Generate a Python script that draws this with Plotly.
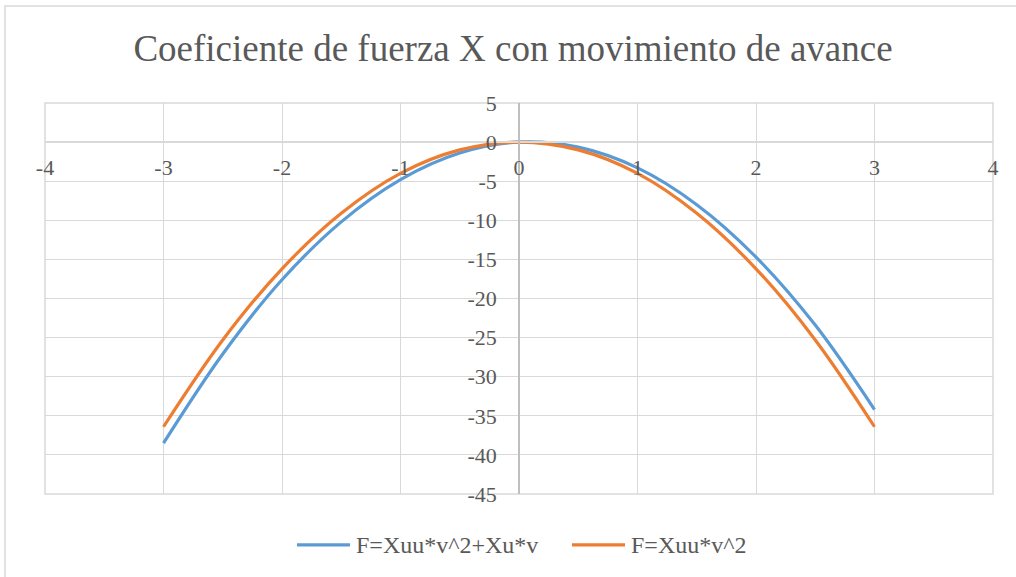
import plotly.graph_objects as go

# Velocity samples and the two force-coefficient curves
v = [-3.0, -2.5, -2.0, -1.5, -1.0, -0.5, 0.0, 0.5, 1.0, 1.5, 2.0, 2.5, 3.0]
f_full = [-38.5, -27.1, -17.6, -10.2, -4.8, -1.4, 0.0, -0.65, -3.3, -8.0, -14.7, -23.4, -34.2]
f_quad = [-36.4, -25.3, -16.2, -9.1, -4.0, -1.0, 0.0, -1.0, -4.0, -9.1, -16.2, -25.3, -36.4]

series_names = ["F=Xuu*v^2+Xu*v", "F=Xuu*v^2"]
series_colors = ["#5B9BD5", "#ED7D31"]

x_ticks = [-4, -3, -2, -1, 0, 1, 2, 3, 4]
x_labels = ["-4", "-3", "-2", "-1", "0", "1", "2", "3", "4"]
y_ticks = [5, 0, -5, -10, -15, -20, -25, -30, -35, -40, -45]
y_labels = ["5", "0", "-5", "-10", "-15", "-20", "-25", "-30", "-35", "-40", "-45"]

FONT = "Liberation Serif"
TEXT = "#595959"
GRID = "#d9d9d9"
LBL = 22

fig = go.Figure()
for ys, name, color in zip([f_full, f_quad], series_names, series_colors):
    fig.add_trace(go.Scatter(x=v, y=ys, mode="lines", name=name, showlegend=False,
                             line=dict(color=color, width=3.2, shape="spline")))

y_min, y_max = -45, 5
fig.update_layout(
    width=1016, height=577,
    margin=dict(l=45, r=23, t=103, b=83),
    paper_bgcolor="white", plot_bgcolor="white",
    font=dict(family=FONT, color=TEXT, size=LBL),
    title=dict(text="Coeficiente de fuerza X con movimiento de avance",
               x=513 / 1016, xanchor="center", y=1 - 48 / 577, yanchor="middle",
               yref="container", font=dict(size=37, color=TEXT, family=FONT)),
    xaxis=dict(range=[-4, 4], tickvals=x_ticks, ticktext=x_labels,
               showgrid=True, gridcolor=GRID, gridwidth=1,
               zeroline=False, showline=True, linecolor=GRID, linewidth=1.5,
               anchor="free", position=(0 - y_min) / (y_max - y_min),
               ticks="outside", ticklen=6, tickcolor="rgba(0,0,0,0)",
               tickfont=dict(size=LBL, color=TEXT, family=FONT)),
    yaxis=dict(range=[y_min, y_max], tickvals=y_ticks, ticktext=y_labels,
               showgrid=True, gridcolor=GRID, gridwidth=1,
               zeroline=False, showline=True, linecolor="#bfbfbf", linewidth=1.5,
               anchor="free", position=0.5,
               ticks="outside", ticklen=17, tickcolor="rgba(0,0,0,0)",
               tickfont=dict(size=LBL, color=TEXT, family=FONT)),
    showlegend=False,
)

# Plot-area frame and outer chart border
fig.add_shape(type="rect", xref="x domain", yref="y domain", x0=0, x1=1, y0=0, y1=1,
              line=dict(color=GRID, width=1.5), layer="below")
fig.add_shape(type="rect", xref="paper", yref="paper",
              x0=-40 / 948, x1=1.05, y0=-0.3, y1=1 + 97 / 391.3,
              line=dict(color=GRID, width=1.5), layer="below")

# Legend below the plot: a coloured line sample followed by the series name
legend_y = -0.1303
legend_x = [0.2658, 0.5559]
for x0, name, color in zip(legend_x, series_names, series_colors):
    fig.add_shape(type="line", xref="paper", yref="paper",
                  x0=x0, x1=x0 + 0.0559, y0=legend_y, y1=legend_y,
                  line=dict(color=color, width=3.2))
    fig.add_annotation(xref="paper", yref="paper", x=x0 + 0.0605, y=legend_y,
                       xanchor="left", yanchor="middle", showarrow=False,
                       text=name, font=dict(size=24, color=TEXT, family=FONT))

fig.write_html("out.html")
